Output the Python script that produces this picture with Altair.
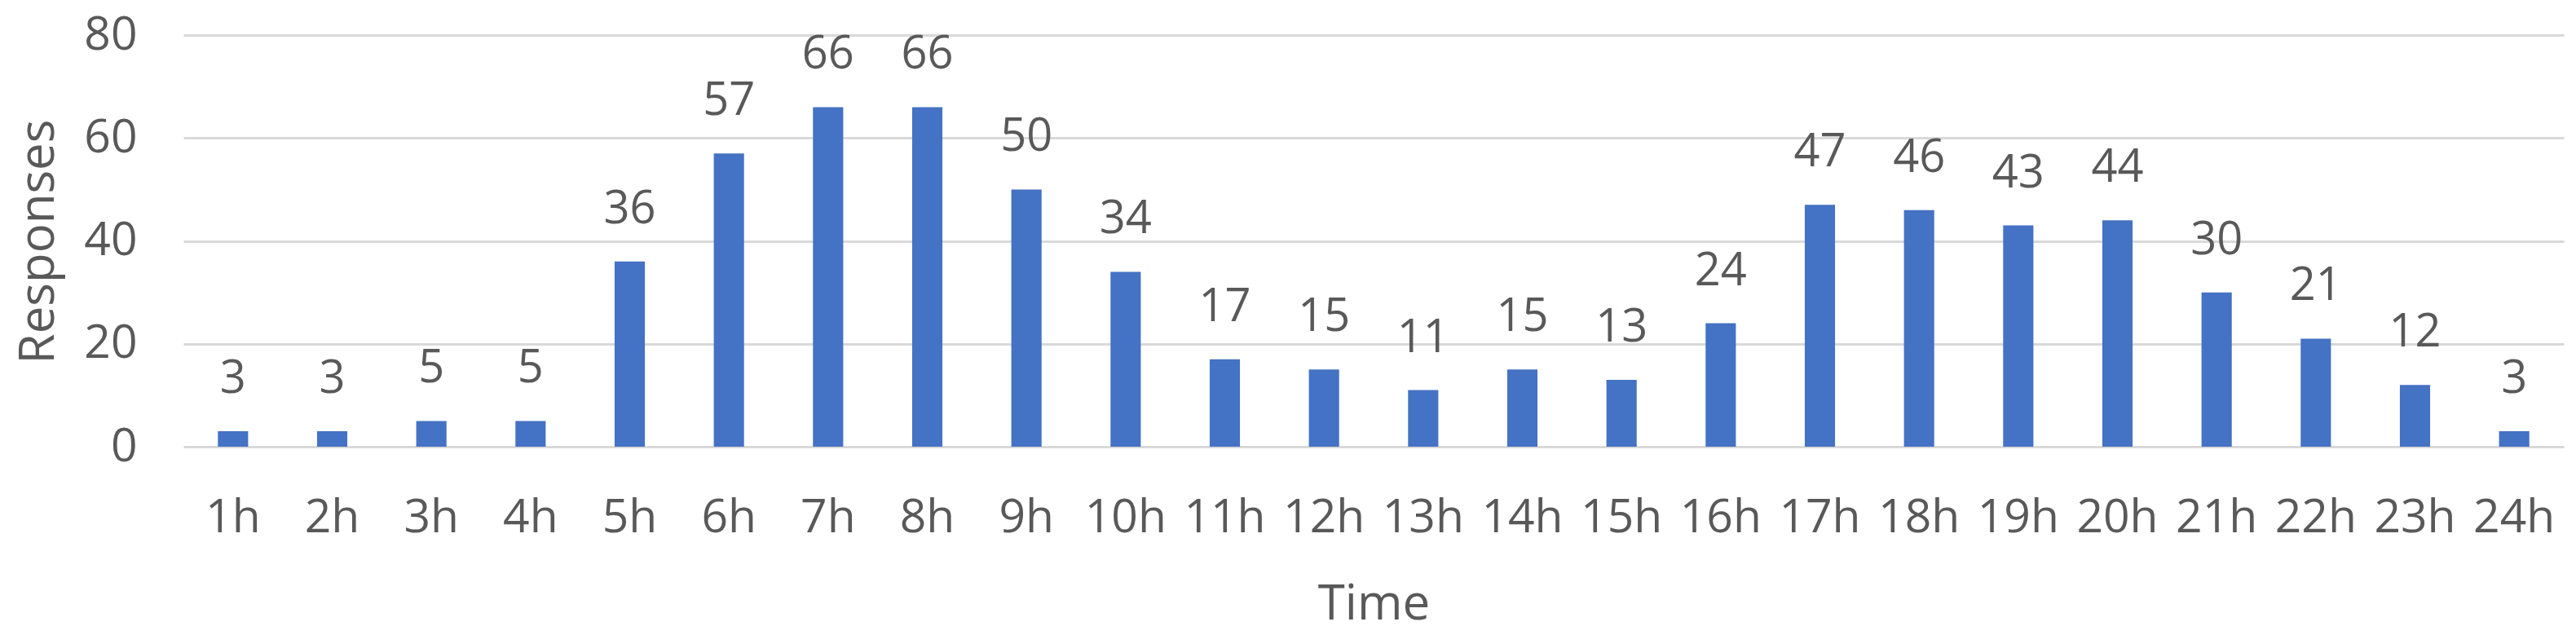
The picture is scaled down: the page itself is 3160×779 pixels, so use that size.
import altair as alt
import pandas as pd

hours = [f"{i}h" for i in range(1, 25)]
responses = [3, 3, 5, 5, 36, 57, 66, 66, 50, 34, 17, 15, 11, 15, 13, 24, 47, 46, 43, 44, 30, 21, 12, 3]
y_ticks = [0, 20, 40, 60, 80]

df = pd.DataFrame({"Time": hours, "Responses": responses})

FONT = "Open Sans"
GREY = "#595959"

x_enc = alt.X(
    "Time:N",
    sort=hours,
    scale=alt.Scale(paddingInner=0.695, paddingOuter=0.3475),
    axis=alt.Axis(
        title="Time",
        labelAngle=0,
        labelFontSize=57,
        labelFont=FONT,
        labelColor=GREY,
        labelBaseline="alphabetic",
        labelPadding=104,
        ticks=False,
        tickSize=0,
        domain=False,
        grid=False,
        titleFont=FONT,
        titleFontSize=60,
        titleFontWeight="normal",
        titleColor=GREY,
        titleX=1460,
        titleY=211,
        titleAlign="center",
        titleBaseline="alphabetic",
    ),
)

y_enc = alt.Y(
    "Responses:Q",
    scale=alt.Scale(domain=[0, 80], nice=False),
    axis=alt.Axis(
        title="Responses",
        values=y_ticks,
        labelFontSize=57,
        labelFont=FONT,
        labelColor=GREY,
        labelPadding=57,
        ticks=False,
        tickSize=0,
        domain=False,
        grid=True,
        gridColor="#D9D9D9",
        gridWidth=3,
        titleFont=FONT,
        titleFontSize=60,
        titleFontWeight="normal",
        titleColor=GREY,
        titleAngle=270,
        titleX=-160,
        titleY=253,
        titleAlign="center",
        titleBaseline="alphabetic",
    ),
)

bars = alt.Chart(df).mark_bar(color="#4472C4").encode(x=x_enc, y=y_enc)
labels = alt.Chart(df).mark_text(
    baseline="alphabetic", dy=-47, fontSize=56, font=FONT, color=GREY
).encode(x=alt.X("Time:N", sort=hours), y="Responses:Q", text="Responses:Q")

chart = (
    alt.layer(bars, labels)
    .properties(
        width=2920,
        height=505,
        autosize=alt.AutoSizeParams(type="none"),
        padding={"left": 217, "top": 35, "right": 7, "bottom": 228},
        background="white",
    )
    .configure_view(stroke=None)
)

chart.save("out.html", embed_options={"renderer": "svg", "actions": False})
